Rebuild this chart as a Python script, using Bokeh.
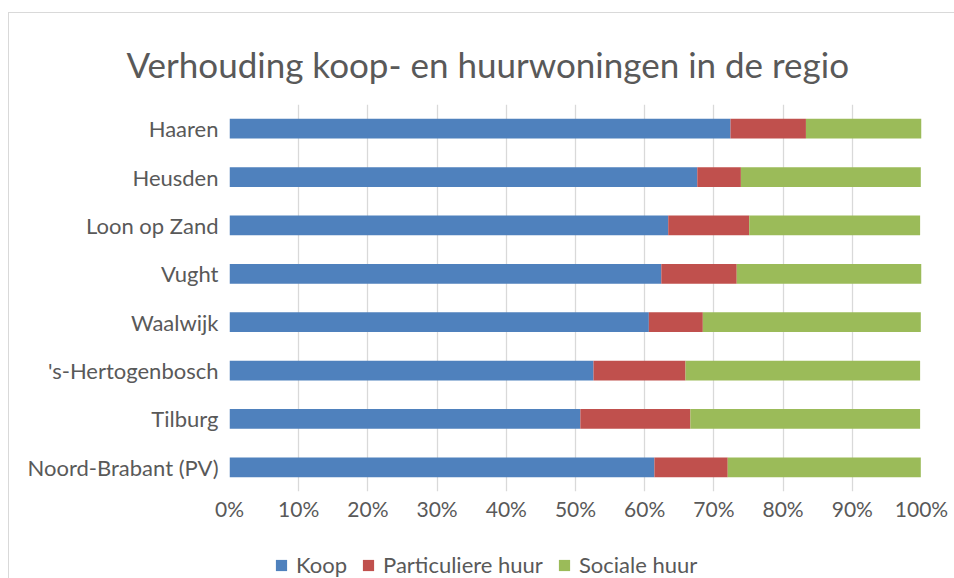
from bokeh.plotting import figure
from bokeh.layouts import column
from bokeh.models import ColumnDataSource, FactorRange, FixedTicker, Legend, LegendItem, Range1d
from bokeh.embed import file_html
from bokeh.resources import INLINE

categories = ["Haaren", "Heusden", "Loon op Zand", "Vught", "Waalwijk",
              "'s-Hertogenbosch", "Tilburg", "Noord-Brabant (PV)"]
koop = [72.4, 67.6, 63.4, 62.4, 60.6, 52.6, 50.7, 61.4]
particuliere_huur = [10.9, 6.3, 11.7, 10.9, 7.8, 13.3, 15.9, 10.6]
sociale_huur = [16.7, 26.0, 24.7, 26.7, 31.5, 33.9, 33.2, 27.9]
series_names = ["Koop", "Particuliere huur", "Sociale huur"]
tick_values = [0, 10, 20, 30, 40, 50, 60, 70, 80, 90, 100]
tick_labels = ["0%", "10%", "20%", "30%", "40%", "50%", "60%", "70%", "80%", "90%", "100%"]
colors = ["#4F81BD", "#C0504D", "#9BBB59"]

FONT = "Lato"
GREY = "#595959"
BORDER = "1px solid #D9D9D9"

source = ColumnDataSource(dict(cat=categories, Koop=koop,
                               **{"Particuliere huur": particuliere_huur,
                                  "Sociale huur": sociale_huur}))

p = figure(width=946, height=522, output_backend="svg", toolbar_location=None,
           y_range=FactorRange(factors=list(reversed(categories))), x_range=(0, 100),
           title="Verhouding koop- en huurwoningen in de regio")

renderers = p.hbar_stack(series_names, y="cat", height=0.41, color=colors,
                         source=source, line_color=None)

p.title.align = "left"
p.title.offset = -103
p.title.text_font = FONT
p.title.text_font_size = "35px"
p.title.text_font_style = "normal"
p.title.text_color = GREY
p.title.standoff = 39

p.min_border_left = 220
p.min_border_right = 34
p.min_border_top = 91
p.min_border_bottom = 44
p.outline_line_color = None

p.xaxis.ticker = FixedTicker(ticks=tick_values)
p.xaxis.major_label_overrides = {v: l for v, l in zip(tick_values, tick_labels)}
p.xaxis.axis_line_color = None
p.xaxis.major_tick_line_color = None
p.xaxis.major_tick_out = 0
p.xaxis.major_tick_in = 0
p.xaxis.minor_tick_line_color = None
p.xaxis.major_label_text_font = FONT
p.xaxis.major_label_text_font_size = "21px"
p.xaxis.major_label_text_color = GREY
p.xaxis.major_label_standoff = 4

p.yaxis.axis_line_color = None
p.yaxis.major_tick_line_color = None
p.yaxis.major_tick_out = 0
p.yaxis.major_tick_in = 0
p.yaxis.major_label_text_font = FONT
p.yaxis.major_label_text_font_size = "22px"
p.yaxis.major_label_text_color = GREY
p.yaxis.major_label_standoff = 11

p.xgrid.grid_line_color = "#D9D9D9"
p.xgrid.grid_line_width = 1.3
p.ygrid.grid_line_color = None

p.margin = (12, 0, 0, 8)
p.styles = {"border-left": BORDER, "border-top": BORDER}

# legend strip below the chart (its frame is aligned with the chart's frame)
lg = figure(width=946, height=44, output_backend="svg", toolbar_location=None,
            x_range=Range1d(200, 300), y_range=FactorRange(factors=categories),
            x_axis_type=None, y_axis_type=None)
lg.min_border = 0
lg.min_border_left = 0
lg.min_border_right = 0
lg.min_border_top = 0
lg.min_border_bottom = 0
lg.outline_line_color = None
lg.xgrid.visible = False
lg.ygrid.visible = False
swatches = [lg.hbar(y="cat", right=n, height=0.001, color=c, line_color=None, source=source)
            for n, c in zip(series_names, colors)]

legend = Legend(items=[LegendItem(label=n, renderers=[r]) for n, r in zip(series_names, swatches)],
                orientation="horizontal", location=(45, 0),
                label_text_font=FONT, label_text_font_size="22px", label_text_color=GREY,
                glyph_width=14, glyph_height=14, label_standoff=8, spacing=14,
                padding=0, margin=0,
                border_line_color=None, background_fill_alpha=0)
lg.add_layout(legend)
lg.margin = (0, 0, 0, 8)
lg.styles = {"border-left": BORDER}

layout = column(p, lg, spacing=0)

open("out.html", "w").write(file_html(layout, INLINE))
